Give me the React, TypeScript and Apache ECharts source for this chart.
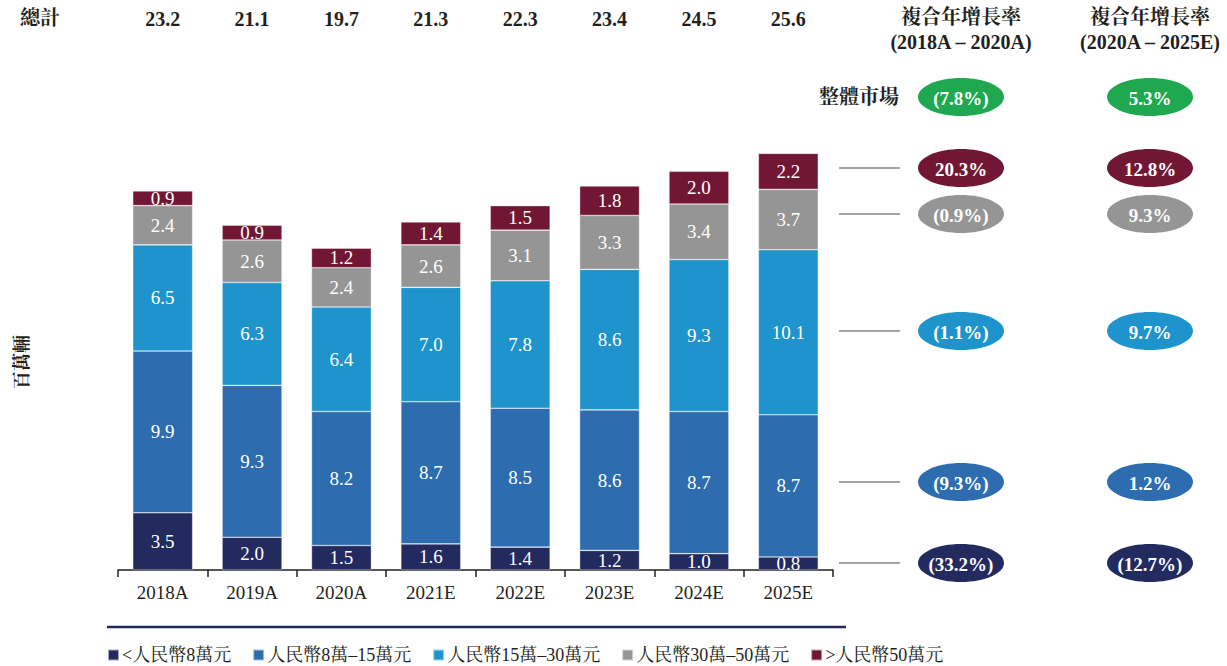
import React, { useEffect, useRef } from "react";
import * as echarts from "echarts";

const categories = ["2018A", "2019A", "2020A", "2021E", "2022E", "2023E", "2024E", "2025E"];
const totals = ["23.2", "21.1", "19.7", "21.3", "22.3", "23.4", "24.5", "25.6"];
const seriesNames = ["<人民幣8萬元", "人民幣8萬–15萬元", "人民幣15萬–30萬元", "人民幣30萬–50萬元", ">人民幣50萬元"];
const below8 = [3.5, 2.0, 1.5, 1.6, 1.4, 1.2, 1.0, 0.8];
const from8to15 = [9.9, 9.3, 8.2, 8.7, 8.5, 8.6, 8.7, 8.7];
const from15to30 = [6.5, 6.3, 6.4, 7.0, 7.8, 8.6, 9.3, 10.1];
const from30to50 = [2.4, 2.6, 2.4, 2.6, 3.1, 3.3, 3.4, 3.7];
const above50 = [0.9, 0.9, 1.2, 1.4, 1.5, 1.8, 2.0, 2.2];
const seriesData = [below8, from8to15, from15to30, from30to50, above50];
const colors = ["#222A5E", "#2D6CAF", "#1F94CC", "#959595", "#721733"];

const cagrHeader1 = ["複合年增長率", "(2018A – 2020A)"];
const cagrHeader2 = ["複合年增長率", "(2020A – 2025E)"];
const overallLabel = "整體市場";
const overallCagr = ["(7.8%)", "5.3%"];
const overallColor = "#1FA84F";
// order: >50, 30-50, 15-30, 8-15, <8
const cagr1820 = ["20.3%", "(0.9%)", "(1.1%)", "(9.3%)", "(33.2%)"];
const cagr2025 = ["12.8%", "9.3%", "9.7%", "1.2%", "(12.7%)"];

const FONT = "Liberation Serif, Noto Serif CJK TC, Noto Sans CJK TC, serif";

export default function App() {
  const ref = useRef<HTMLDivElement>(null);
  useEffect(() => {
    if (!ref.current) return;
    const chart = echarts.init(ref.current, null, { renderer: "svg" });

    const rowY = [168, 214, 331, 482, 563];
    const rowColors = [colors[4], colors[3], colors[2], colors[1], colors[0]];
    const col1 = 961;
    const col2 = 1150;
    const rx = 43;
    const ry = 19;

    const txt = (x: number, y: number, text: string, size: number, bold: boolean, fill = "#231F20", rotation = 0) => ({
      type: "text",
      x,
      y,
      rotation,
      style: {
        text,
        fill,
        font: `${bold ? "bold " : ""}${size}px ${FONT}`,
        textAlign: "center",
        textVerticalAlign: "middle",
        align: "center",
        verticalAlign: "middle",
      },
    });

    const graphics: any[] = [];
    const ellipse = (cx: number, cy: number, color: string, text: string) => {
      graphics.push({
        type: "ellipse",
        shape: { cx, cy, rx, ry },
        style: { fill: color },
      });
      graphics.push(txt(cx, cy + 1, text, 19, true, "#ffffff"));
    };
    const header = (cx: number, lines: string[]) => {
      lines.forEach((t, i) => graphics.push(txt(cx, 17 + i * 25, t, 20, true)));
    };
    header(col1, cagrHeader1);
    header(col2, cagrHeader2);
    graphics.push(txt(859, 97, overallLabel, 20, true));
    ellipse(col1, 97, overallColor, overallCagr[0]);
    ellipse(col2, 97, overallColor, overallCagr[1]);
    rowY.forEach((y, i) => {
      graphics.push({
        type: "line",
        shape: { x1: 839, y1: y, x2: 900, y2: y },
        style: { stroke: "#4a4a4a", lineWidth: 1.2 },
      });
      ellipse(col1, y, rowColors[i], cagr1820[i]);
      ellipse(col2, y, rowColors[i], cagr2025[i]);
    });
    graphics.push(txt(40, 18, "總計", 20, true));
    graphics.push(txt(22, 362, "百萬輛", 18, true, "#231F20", Math.PI / 2));
    graphics.push({
      type: "line",
      shape: { x1: 107, y1: 627, x2: 846, y2: 627 },
      style: { stroke: "#222A5E", lineWidth: 2.5 },
    });

    chart.setOption({
      animation: false,
      textStyle: { fontFamily: FONT },
      grid: { left: 118, right: 394, top: 112.5, bottom: 96, containLabel: false },
      legend: {
        left: 107,
        top: 645,
        padding: 0,
        itemWidth: 11,
        itemHeight: 11,
        itemGap: 21,
        icon: "rect",
        textStyle: { fontSize: 18, lineHeight: 20, color: "#231F20", fontFamily: FONT, padding: [0, 0, 0, -2] },
        data: seriesNames,
      },
      xAxis: [
        {
          type: "category",
          data: categories,
          axisLine: { lineStyle: { color: "#231F20", width: 1.5 } },
          axisTick: { show: true, length: 7, lineStyle: { color: "#231F20", width: 1.5 } },
          axisLabel: { fontSize: 19, color: "#231F20", margin: 13, fontFamily: FONT },
        },
        {
          type: "category",
          position: "top",
          offset: 76,
          data: totals,
          axisLine: { show: false },
          axisTick: { show: false },
          axisLabel: { fontSize: 20, fontWeight: "bold", color: "#231F20", fontFamily: FONT, margin: 8 },
        },
      ],
      yAxis: {
        type: "value",
        min: 0,
        max: 28,
        show: false,
        splitLine: { show: false },
      },
      series: seriesNames.map((name, i) => ({
        name,
        type: "bar",
        stack: "total",
        xAxisIndex: 0,
        barWidth: "67%",
        data: seriesData[i],
        itemStyle: { color: colors[i], borderColor: "rgba(255,255,255,0.6)", borderWidth: 0.6 },
        label: {
          show: true,
          position: "inside",
          color: "#ffffff",
          fontSize: 19,
          fontFamily: FONT,
          formatter: (p: any) => Number(p.value).toFixed(1),
        },
      })),
      graphic: graphics,
    });
    return () => chart.dispose();
  }, []);
  return <div ref={ref} style={{ width: 1227, height: 666, position: "absolute", left: 0, top: 0 }} />;
}
